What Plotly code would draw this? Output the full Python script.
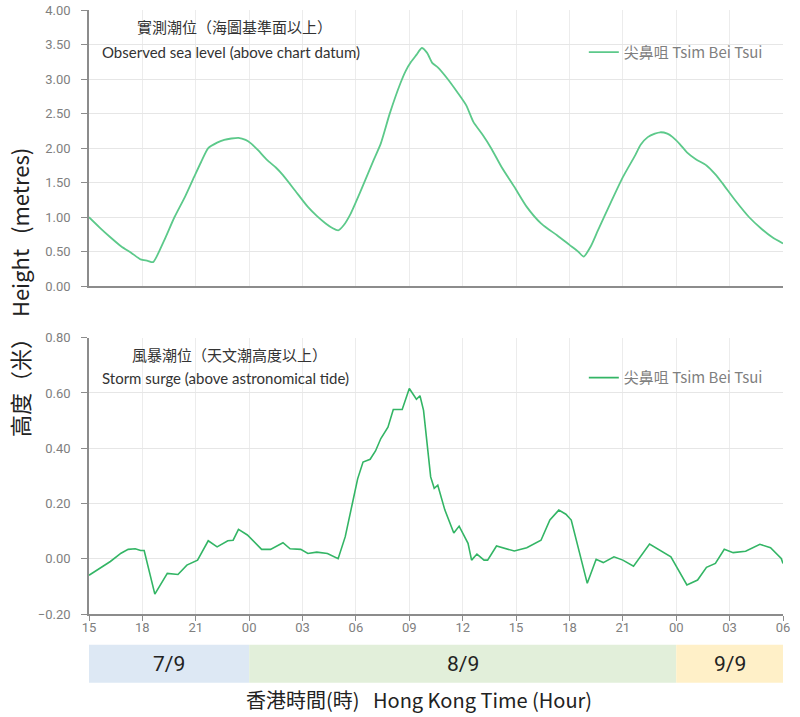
import plotly.graph_objects as go
from plotly.subplots import make_subplots

# Hours counted from 7/9 00:00
obs_hours = [15.0, 15.6, 16.2, 16.8, 17.4, 17.9, 18.3, 18.6, 19.2, 19.8, 20.4, 20.9, 21.3,
             21.7, 22.2, 22.6, 23.0, 23.4, 23.8, 24.1, 24.5, 25.0, 25.5, 25.9, 26.6, 27.3,
             27.8, 28.3, 28.7, 29.0, 29.3, 29.7, 30.3, 31.0, 31.4, 31.9, 32.5, 32.8, 33.1,
             33.4, 33.7, 34.0, 34.3, 34.6, 35.1, 35.7, 36.2, 36.6, 37.1, 37.6, 38.2, 38.9,
             39.6, 40.4, 40.8, 41.3, 42.0, 42.5, 42.8, 43.2, 43.6, 44.3, 45.0, 45.7, 46.0,
             46.4, 46.8, 47.1, 47.5, 47.8, 48.2, 48.6, 49.1, 49.7, 50.2, 50.6, 51.3, 52.1,
             52.8, 53.4, 54.0]
obs_level = [1.00, 0.85, 0.71, 0.58, 0.48, 0.39, 0.37, 0.35, 0.65, 1.00, 1.30, 1.58, 1.80,
             2.00, 2.08, 2.12, 2.14, 2.15, 2.12, 2.07, 1.97, 1.83, 1.72, 1.61, 1.38, 1.15,
             1.02, 0.91, 0.84, 0.81, 0.88, 1.05, 1.40, 1.83, 2.07, 2.50, 2.94, 3.12, 3.25,
             3.35, 3.45, 3.38, 3.23, 3.17, 3.02, 2.81, 2.62, 2.38, 2.20, 2.00, 1.72, 1.44,
             1.15, 0.91, 0.83, 0.74, 0.60, 0.50, 0.43, 0.58, 0.81, 1.20, 1.58, 1.90, 2.05,
             2.16, 2.21, 2.23, 2.21, 2.16, 2.06, 1.94, 1.84, 1.75, 1.62, 1.49, 1.25, 1.00,
             0.83, 0.71, 0.62]

surge_hours = [15.0, 15.5, 16.2, 16.8, 17.2, 17.6, 17.9, 18.1, 18.7, 19.4, 20.0, 20.5, 21.1,
               21.7, 22.2, 22.8, 23.1, 23.4, 23.9, 24.7, 25.2, 25.9, 26.3, 26.9, 27.3, 27.8,
               28.4, 29.0, 29.4, 29.8, 30.1, 30.4, 30.8, 31.1, 31.4, 31.8, 32.1, 32.6, 32.8,
               33.0, 33.4, 33.6, 33.8, 34.2, 34.4, 34.6, 35.0, 35.5, 35.8, 36.3, 36.5, 36.8,
               37.2, 37.4, 37.9, 38.9, 39.6, 40.4, 40.9, 41.4, 41.8, 42.1, 43.0, 43.5, 43.9,
               44.5, 45.0, 45.6, 46.5, 47.1, 47.7, 48.6, 49.2, 49.7, 50.2, 50.7, 51.2, 51.9,
               52.7, 53.3, 53.9, 54.0]
surge_level = [-0.06, -0.04, -0.01, 0.02, 0.034, 0.036, 0.03, 0.03, -0.128, -0.053, -0.057,
               -0.023, -0.005, 0.065, 0.043, 0.065, 0.067, 0.106, 0.086, 0.034, 0.034, 0.058,
               0.036, 0.034, 0.019, 0.024, 0.019, 0.00, 0.08, 0.20, 0.29, 0.35, 0.36, 0.39,
               0.435, 0.476, 0.54, 0.54, 0.58, 0.616, 0.577, 0.59, 0.537, 0.296, 0.255, 0.266,
               0.176, 0.093, 0.118, 0.056, -0.005, 0.017, -0.005, -0.005, 0.046, 0.028, 0.04,
               0.067, 0.14, 0.176, 0.161, 0.14, -0.089, -0.002, -0.014, 0.007, -0.005, -0.027,
               0.053, 0.031, 0.007, -0.095, -0.077, -0.031, -0.017, 0.034, 0.022, 0.027, 0.052,
               0.04, 0.001, -0.017]

tick_hours = list(range(15, 55, 3))
tick_labels = ["15", "18", "21", "00", "03", "06", "09", "12", "15", "18", "21", "00", "03", "06"]

day_labels = ["7/9", "8/9", "9/9"]
day_start = [15, 24, 48]
day_end = [24, 48, 54]
day_colors = ["#dde8f4", "#e2efda", "#fff0c8"]

station = "尖鼻咀 Tsim Bei Tsui"

fig = make_subplots(rows=2, cols=1, vertical_spacing=0.085)

fig.add_trace(go.Scatter(x=obs_hours, y=obs_level, mode="lines", name=station,
                         line=dict(color="#5cc98a", width=1.8, shape="spline", smoothing=0.6),
                         legend="legend"),
              row=1, col=1)
fig.add_trace(go.Scatter(x=surge_hours, y=surge_level, mode="lines", name=station,
                         line=dict(color="#33b565", width=1.6), legend="legend2"),
              row=2, col=1)

tickfont = dict(family="Liberation Sans Narrow, Roboto, sans-serif", size=13, color="#7f7f7f")
axis_common = dict(range=[15, 54], tickvals=tick_hours, showgrid=True, gridcolor="#ececec",
                   showline=True, linecolor="#8c8c8c", linewidth=1.5, zeroline=False)

fig.update_xaxes(**axis_common, showticklabels=False, ticks="", row=1, col=1)
fig.update_xaxes(**axis_common, ticktext=tick_labels, ticks="outside", ticklen=5,
                 tickcolor="#8c8c8c", tickfont=tickfont, ticklabelstandoff=-4, row=2, col=1)

yaxis_common = dict(tickformat=".2f", showgrid=True, gridcolor="#e6e6e6", showline=True,
                    linecolor="#8c8c8c", linewidth=1.5, ticks="outside", ticklen=6,
                    tickcolor="#8c8c8c", tickfont=tickfont, zeroline=False, ticklabelstandoff=8,
                    ticklabeloverflow="allow")
fig.update_yaxes(range=[0, 4], dtick=0.5, **yaxis_common, row=1, col=1)
fig.update_yaxes(range=[-0.2, 0.8], dtick=0.2, **yaxis_common, row=2, col=1)

# date bands under the x axis
for lab, s, e, c in zip(day_labels, day_start, day_end, day_colors):
    fig.add_shape(type="rect", xref="x2", yref="paper", x0=s, x1=e, y0=-0.114, y1=-0.051,
                  fillcolor=c, line_width=0, layer="below")
    fig.add_annotation(x=(s + e) / 2, y=-0.0825, xref="x2", yref="paper", yanchor="middle",
                       text=lab, showarrow=False,
                       font=dict(family="Liberation Sans Narrow, Roboto", size=21, color="#222222"))

title_font = dict(family="Noto Sans CJK TC, Open Sans", size=15, color="#333333")
sub_font = dict(family="Lato, Open Sans", size=15, color="#333333")
fig.add_annotation(x=0.066, y=0.972, xref="paper", yref="paper", xanchor="left", yanchor="middle",
                   text="實測潮位（海圖基準面以上）", showarrow=False, font=title_font)
fig.add_annotation(x=0.016, y=0.930, xref="paper", yref="paper", xanchor="left", yanchor="middle",
                   text="Observed sea level (above chart datum)", showarrow=False, font=sub_font)
fig.add_annotation(x=0.059, y=0.429, xref="paper", yref="paper", xanchor="left", yanchor="middle",
                   text="風暴潮位（天文潮高度以上）", showarrow=False, font=title_font)
fig.add_annotation(x=0.016, y=0.391, xref="paper", yref="paper", xanchor="left", yanchor="middle",
                   text="Storm surge (above astronomical tide)", showarrow=False, font=sub_font)

fig.add_annotation(x=-0.101, y=0.533, xref="paper", yref="paper", xanchor="center", yanchor="middle",
                   textangle=-90, text="高度（米）  Height   (metres)", showarrow=False,
                   font=dict(family="Noto Sans CJK TC, Open Sans", size=22, color="#222222"))
fig.add_annotation(x=0.475, y=-0.142, xref="paper", yref="paper", xanchor="center", yanchor="middle",
                   text="香港時間(時)   Hong Kong Time (Hour)", showarrow=False,
                   font=dict(family="Noto Sans CJK TC, Liberation Sans Narrow", size=20, color="#222222"))

legend_font = dict(family="Noto Sans CJK TC, Open Sans", size=15, color="#7f7f7f")
fig.update_layout(
    width=800, height=717,
    margin=dict(l=89, r=17, t=10, b=103, autoexpand=False),
    plot_bgcolor="white", paper_bgcolor="white",
    legend=dict(x=0.713, y=0.930, xanchor="left", yanchor="middle", font=legend_font,
                bgcolor="rgba(0,0,0,0)"),
    legend2=dict(x=0.713, y=0.391, xanchor="left", yanchor="middle", font=legend_font,
                 bgcolor="rgba(0,0,0,0)"),
    showlegend=True,
)

# page has a default body margin; drop it so the figure sits at the window corner
fig.write_html("out.html", config={"displayModeBar": False},
               post_script="document.body.style.margin='0px';")
